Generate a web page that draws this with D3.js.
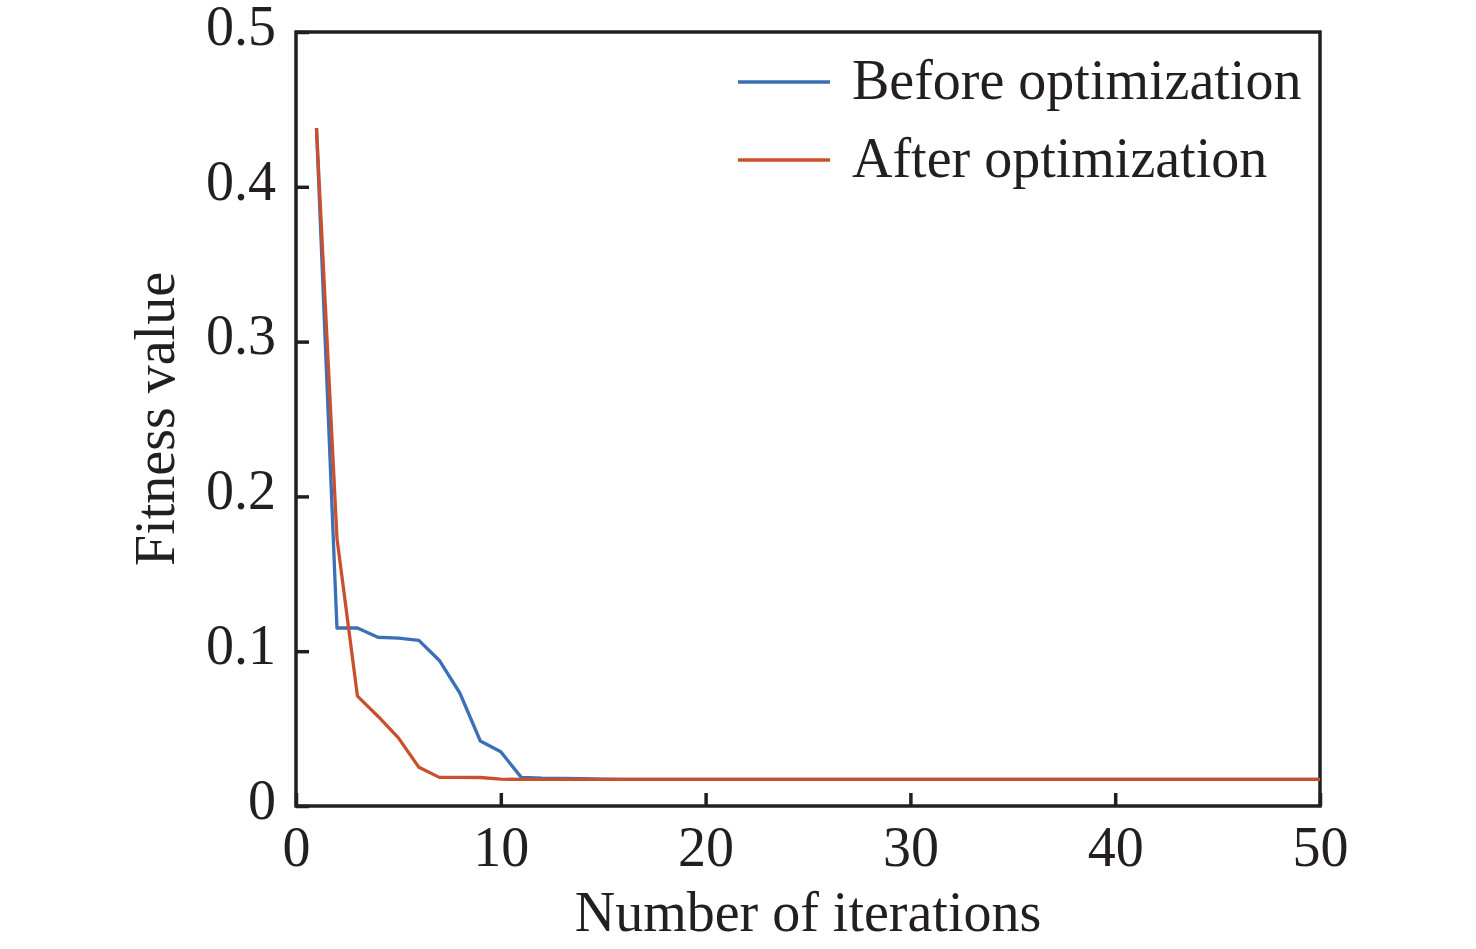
<!DOCTYPE html>
<html>
<head>
<meta charset="utf-8">
<script src="https://cdn.jsdelivr.net/npm/d3@7"></script>
<style>
  body { margin: 0; background: #fff; }
  svg text { font-family: "Liberation Serif", "DejaVu Serif", serif; fill: #231f20; }
</style>
</head>
<body>
<script>
// iteration index
var iterations = [1, 2, 3, 4, 5, 6, 7, 8, 9, 10,
  11, 12, 13, 14, 15, 16, 17, 18, 19, 20,
  21, 22, 23, 24, 25, 26, 27, 28, 29, 30,
  31, 32, 33, 34, 35, 36, 37, 38, 39, 40,
  41, 42, 43, 44, 45, 46, 47, 48, 49, 50];

var beforeOpt = [0.438, 0.115, 0.115, 0.109, 0.1085, 0.107, 0.094, 0.073, 0.042, 0.035,
  0.0185, 0.0180, 0.0178, 0.0176, 0.0174, 0.0172, 0.0172, 0.0172, 0.0172, 0.0172,
  0.0172, 0.0172, 0.0172, 0.0172, 0.0172, 0.0172, 0.0172, 0.0172, 0.0172, 0.0172,
  0.0172, 0.0172, 0.0172, 0.0172, 0.0172, 0.0172, 0.0172, 0.0172, 0.0172, 0.0172,
  0.0172, 0.0172, 0.0172, 0.0172, 0.0172, 0.0172, 0.0172, 0.0172, 0.0172, 0.0172];

var afterOpt = [0.438, 0.173, 0.071, 0.058, 0.044, 0.025, 0.0185, 0.0185, 0.0184, 0.0173,
  0.0172, 0.0172, 0.0172, 0.0172, 0.0172, 0.0172, 0.0172, 0.0172, 0.0172, 0.0172,
  0.0172, 0.0172, 0.0172, 0.0172, 0.0172, 0.0172, 0.0172, 0.0172, 0.0172, 0.0172,
  0.0172, 0.0172, 0.0172, 0.0172, 0.0172, 0.0172, 0.0172, 0.0172, 0.0172, 0.0172,
  0.0172, 0.0172, 0.0172, 0.0172, 0.0172, 0.0172, 0.0172, 0.0172, 0.0172, 0.0172];

var seriesNames = ['Before optimization', 'After optimization'];
var xTicks = [0, 10, 20, 30, 40, 50];
var yTicks = [0, 0.1, 0.2, 0.3, 0.4, 0.5];

var width = 1476, height = 949;
var plotLeft = 296, plotRight = 1320, plotTop = 32, plotBottom = 806;
var colors = ['#3b6fb6', '#c9502e'];
var fontSize = 56;

var svg = d3.select('body')
  .append('svg')
  .attr('width', width)
  .attr('height', height);

var x = d3.scaleLinear().domain([0, 50]).range([plotLeft, plotRight]);
var y = d3.scaleLinear().domain([0, 0.5]).range([plotBottom, plotTop]);

var fmtY = function(d) { return d === 0 ? '0' : d3.format('.1f')(d); };

// bottom axis, ticks pointing in
var gx = svg.append('g')
  .attr('transform', 'translate(0,' + plotBottom + ')')
  .call(d3.axisBottom(x).tickValues(xTicks).tickSize(-13).tickPadding(20).tickFormat(d3.format('d')));
gx.select('.domain').remove();
gx.selectAll('line').attr('stroke', '#231f20').attr('stroke-width', 3.5);
gx.selectAll('text').attr('font-size', fontSize).attr('dy', '0.71em');

// left axis
var gy = svg.append('g')
  .attr('transform', 'translate(' + plotLeft + ',0)')
  .call(d3.axisLeft(y).tickValues(yTicks).tickSize(-13).tickPadding(20).tickFormat(fmtY));
gy.select('.domain').remove();
gy.selectAll('line').attr('stroke', '#231f20').attr('stroke-width', 3.5);
gy.selectAll('text').attr('font-size', fontSize).attr('dy', '0.22em');

// frame
svg.append('rect')
  .attr('x', plotLeft)
  .attr('y', plotTop)
  .attr('width', plotRight - plotLeft)
  .attr('height', plotBottom - plotTop)
  .attr('fill', 'none')
  .attr('stroke', '#231f20')
  .attr('stroke-width', 3.5);

var line = d3.line()
  .x(function(d) { return x(d[0]); })
  .y(function(d) { return y(d[1]); });

[beforeOpt, afterOpt].forEach(function(vals, i) {
  svg.append('path')
    .datum(iterations.map(function(it, j) { return [it, vals[j]]; }))
    .attr('fill', 'none')
    .attr('stroke', colors[i])
    .attr('stroke-width', 3.3)
    .attr('stroke-linejoin', 'round')
    .attr('d', line);
});

// legend
seriesNames.forEach(function(name, i) {
  var ly = 82 + i * 78;
  svg.append('line')
    .attr('x1', 738).attr('x2', 830)
    .attr('y1', ly).attr('y2', ly)
    .attr('stroke', colors[i])
    .attr('stroke-width', 3.3);
  svg.append('text')
    .attr('x', 852)
    .attr('y', ly + 17)
    .attr('font-size', fontSize)
    .text(name);
});

// axis titles
svg.append('text')
  .attr('x', (plotLeft + plotRight) / 2)
  .attr('y', 931)
  .attr('text-anchor', 'middle')
  .attr('font-size', fontSize)
  .text('Number of iterations');

svg.append('text')
  .attr('transform', 'translate(174,' + ((plotTop + plotBottom) / 2) + ') rotate(-90)')
  .attr('text-anchor', 'middle')
  .attr('font-size', fontSize)
  .text('Fitness value');
</script>
</body>
</html>
